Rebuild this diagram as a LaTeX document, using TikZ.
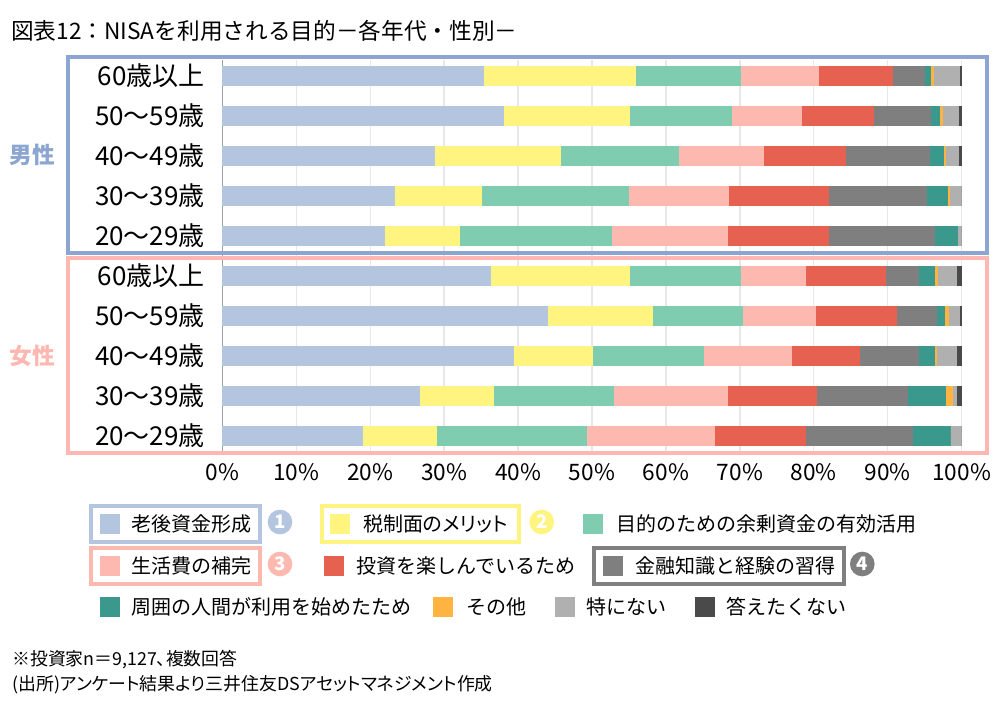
\documentclass[tikz,border=0pt]{standalone}
\usepackage{fontspec}
\setmainfont{Noto Sans CJK JP}
\newfontfamily\jpprop[RawFeature=+palt]{Noto Sans CJK JP}
\usetikzlibrary{calc}

\definecolor{seg1}{HTML}{B4C5E0}
\definecolor{seg2}{HTML}{FFF480}
\definecolor{seg3}{HTML}{80CCB0}
\definecolor{seg4}{HTML}{FDB8B0}
\definecolor{seg5}{HTML}{E66150}
\definecolor{seg6}{HTML}{7F7F7F}
\definecolor{seg7}{HTML}{3A988C}
\definecolor{seg8}{HTML}{FFB441}
\definecolor{seg9}{HTML}{B0B0B0}
\definecolor{seg10}{HTML}{4A4A4A}
\definecolor{frameM}{HTML}{8CA6D1}
\definecolor{frameF}{HTML}{FFB8B1}
\definecolor{gridc}{HTML}{E8E8E8}
\definecolor{axisc}{HTML}{A0A0A0}

\begin{document}
\begin{tikzpicture}[x=0.75pt,y=-0.75pt,
	agelabel/.style={anchor=east,inner sep=0pt,font=\fontsize{19.5}{22}\selectfont},
	sexlabel/.style={inner sep=0pt,font=\bfseries\fontsize{17}{20}\selectfont},
	ticklabel/.style={inner sep=0pt,font=\fontsize{17}{19}\selectfont},
	legtext/.style={anchor=west,inner sep=0pt,font=\fontsize{15}{18}\selectfont},
	legsq/.style={minimum size=15pt,inner sep=0pt},
	legnum/.style={circle,minimum size=18.5pt,inner sep=0pt,text=white,font=\bfseries\fontsize{14}{16}\selectfont},
	legframe/.style={line width=2.8pt},
	note/.style={anchor=west,inner sep=0pt,font=\jpprop\fontsize{13.4}{15}\selectfont}]

	\useasboundingbox (0,0) rectangle (1002,710);

	% ---- parameters

	\def\xzero{222.3}
	\def\unit{7.394}
	\def\halfbar{10}

	% ---- title

	\node[anchor=west,inner sep=0pt,font=\fontsize{17}{20}\selectfont] (title) at (11,31) {図表12：NISAを利用される目的－各年代・性別－};

	% ---- grid and axis

	\foreach \k in {1,...,10} { \draw[gridc, line width=1pt] ({\xzero+\unit*10*\k},60) -- ({\xzero+\unit*10*\k},451); }
	\draw[axisc, line width=1pt] (\xzero,60) -- (\xzero,451);

	% ---- bars (cumulative percentages)

	\foreach \y/\vals in {
		76/{35.4,56.0,70.2,80.7,90.7,95.0,95.8,96.2,99.8,100},
		116/{38.1,55.1,68.9,78.4,88.1,95.8,97.1,97.5,99.6,100},
		156/{28.8,45.8,61.8,73.3,84.3,95.7,97.6,97.9,99.6,100},
		196/{23.4,35.1,55.0,68.5,82.1,95.3,98.1,98.4,100,100},
		236/{22.0,32.2,52.7,68.4,82.0,96.4,99.5,99.5,100,100},
		276/{36.3,55.1,70.2,78.9,89.8,94.2,96.4,96.8,99.3,100},
		316/{44.0,58.3,70.4,80.3,91.3,96.6,97.8,98.3,99.8,100},
		356/{39.5,50.1,65.2,77.1,86.2,94.2,96.4,96.6,99.4,100},
		396/{26.8,36.8,53.0,68.4,80.4,92.8,97.9,98.8,99.4,100},
		436/{19.0,29.1,49.3,66.6,79.0,93.4,98.5,98.5,100,100}} {
		\foreach \c [count=\k, remember=\c as \p (initially 0)] in \vals {
			\fill[fill=seg\k] ({\xzero+\unit*\p},\y-\halfbar) rectangle ({\xzero+\unit*\c},\y+\halfbar);
		}
	}

	% ---- age labels

	\foreach \y/\g in {0/M,200/F} {
		\node[agelabel] (age60\g) at (205,76+\y) {60歳以上};
		\node[agelabel] (age50\g) at (205,116+\y) {50～59歳};
		\node[agelabel] (age40\g) at (205,156+\y) {40～49歳};
		\node[agelabel] (age30\g) at (205,196+\y) {30～39歳};
		\node[agelabel] (age20\g) at (205,236+\y) {20～29歳};
	}

	% ---- frames

	\draw[frameM, line width=2.8pt] (68.3,57.3) rectangle (986.7,252.7);
	\draw[frameF, line width=2.8pt] (68.3,258.3) rectangle (986.7,453.3);

	\node[sexlabel, text=frameM] (male) at (32.5,155) {男性};
	\node[sexlabel, text=frameF] (female) at (32.5,356) {女性};

	% ---- tick labels

	\foreach \k in {0,...,10} {
		\pgfmathtruncatemacro\pc{10*\k}
		\node[ticklabel] (tick\k) at ({\xzero+\unit*10*\k},472) {\pc\%};
	}

	% ---- legend

	\draw[seg1, legframe] (91,505.7) rectangle (260,541.7);
	\node[legsq, fill=seg1] (sqA) at (110,523.5) {};
	\node[legtext] (txtA) at (131,523.5) {老後資金形成};
	\node[legnum, fill=seg1] (numA) at (280,522) {1};

	\draw[seg2, legframe] (322.3,505.7) rectangle (518.7,541.7);
	\node[legsq, fill=seg2] (sqB) at (339.5,523.5) {};
	\node[legtext, font=\jpprop\fontsize{15}{18}\selectfont] (txtB) at (363,523.5) {税制面のメリット};
	\node[legnum, fill=seg2] (numB) at (541.7,522) {2};

	\node[legsq, fill=seg3] (sqC) at (593.3,523.5) {};
	\node[legtext] (txtC) at (616,523.5) {目的のための余剰資金の有効活用};

	\draw[seg4, legframe] (91,547.7) rectangle (260,584);
	\node[legsq, fill=seg4] (sqD) at (110,566) {};
	\node[legtext] (txtD) at (131,566) {生活費の補完};
	\node[legnum, fill=seg4] (numD) at (280,564) {3};

	\node[legsq, fill=seg5] (sqE) at (334.3,566) {};
	\node[legtext] (txtE) at (356,566) {投資を楽しんでいるため};

	\draw[seg6, legframe] (594.3,547.7) rectangle (843.7,584.3);
	\node[legsq, fill=seg6] (sqF) at (612.7,566) {};
	\node[legtext] (txtF) at (635.3,566) {金融知識と経験の習得};
	\node[legnum, fill=seg6] (numF) at (862.3,564) {4};

	\node[legsq, fill=seg7] (sqG) at (110,607) {};
	\node[legtext] (txtG) at (131,607) {周囲の人間が利用を始めたため};
	\node[legsq, fill=seg8] (sqH) at (443.3,607) {};
	\node[legtext] (txtH) at (466.7,607) {その他};
	\node[legsq, fill=seg9] (sqI) at (565,607) {};
	\node[legtext] (txtI) at (586.7,607) {特にない};
	\node[legsq, fill=seg10] (sqJ) at (705,607) {};
	\node[legtext] (txtJ) at (726.7,607) {答えたくない};

	% ---- notes

	\node[note] (note1) at (12,660) {※投資家n＝9,127、複数回答};
	\node[note] (note2) at (12,685) {(出所)アンケート結果より三井住友DSアセットマネジメント作成};

\end{tikzpicture}
\end{document}
